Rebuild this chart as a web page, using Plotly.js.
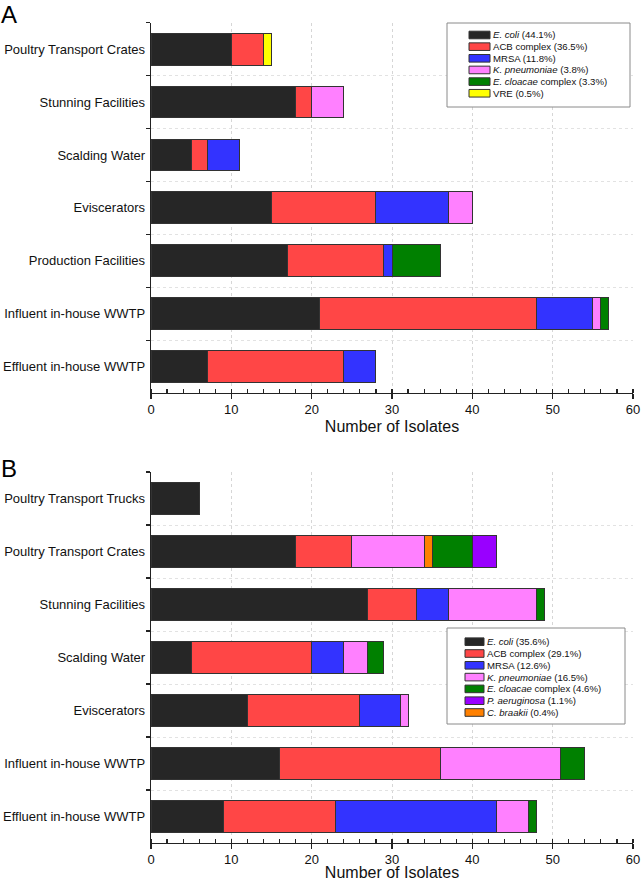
<!DOCTYPE html>
<html>
<head>
<meta charset="utf-8">
<script src="https://cdn.plot.ly/plotly-3.0.1.min.js"></script>
<style>html,body{margin:0;padding:0;background:#fff;}#chart{width:641px;height:881px;}</style>
</head>
<body>
<div id="chart"></div>
<script>
// ---------- DATA ----------
const catsA = ["Poultry Transport Crates","Stunning Facilities","Scalding Water","Eviscerators","Production Facilities","Influent in-house WWTP","Effluent in-house WWTP"];
const A_ecoli = [10,18,5,15,17,21,7];
const A_acb   = [4,2,2,13,12,27,17];
const A_mrsa  = [0,0,4,9,1,7,4];
const A_kpn   = [0,4,0,3,0,1,0];
const A_ecl   = [0,0,0,0,6,1,0];
const A_vre   = [1,0,0,0,0,0,0];
const legendA = ["<i>E. coli</i> (44.1%)","ACB complex (36.5%)","MRSA (11.8%)","<i>K. pneumoniae</i> (3.8%)","<i>E. cloacae</i> complex (3.3%)","VRE (0.5%)"];

const catsB = ["Poultry Transport Trucks","Poultry Transport Crates","Stunning Facilities","Scalding Water","Eviscerators","Influent in-house WWTP","Effluent in-house WWTP"];
const B_ecoli = [6,18,27,5,12,16,9];
const B_acb   = [0,7,6,15,14,20,14];
const B_mrsa  = [0,0,4,4,5,0,20];
const B_kpn   = [0,9,11,3,1,15,4];
const B_cbr   = [0,1,0,0,0,0,0];
const B_ecl   = [0,5,1,2,0,3,1];
const B_pae   = [0,3,0,0,0,0,0];
const legendB = ["<i>E. coli</i> (35.6%)","ACB complex (29.1%)","MRSA (12.6%)","<i>K. pneumoniae</i> (16.5%)","<i>E. cloacae</i> complex (4.6%)","<i>P. aeruginosa</i> (1.1%)","<i>C. braakii</i> (0.4%)"];

// ---------- STYLE ----------
const C = {ecoli:"#262626", acb:"#FF4646", mrsa:"#3333FF", kpn:"#FF80FF", ecl:"#008000", vre:"#FFFF00", pae:"#9900FF", cbr:"#FF8000"};
const FONT = "Liberation Sans, Arial, Helvetica, sans-serif";
const W = 641, H = 881, ML = 151, MR = 8;
const px = x => (x - ML) / (W - ML - MR);
const py = y => 1 - y / H;

function bar(vals, cats, color, xa, ya) {
  return {type:"bar", orientation:"h", x: vals.map(v => v === 0 ? null : v), y: cats,
    xaxis: xa, yaxis: ya, marker:{color: color, line:{color:"#333333", width:1}},
    showlegend:false, hoverinfo:"skip"};
}

const traces = [
  bar(A_ecoli, catsA, C.ecoli, "x", "y"),
  bar(A_acb,   catsA, C.acb,   "x", "y"),
  bar(A_mrsa,  catsA, C.mrsa,  "x", "y"),
  bar(A_kpn,   catsA, C.kpn,   "x", "y"),
  bar(A_ecl,   catsA, C.ecl,   "x", "y"),
  bar(A_vre,   catsA, C.vre,   "x", "y"),
  bar(B_ecoli, catsB, C.ecoli, "x2", "y2"),
  bar(B_acb,   catsB, C.acb,   "x2", "y2"),
  bar(B_mrsa,  catsB, C.mrsa,  "x2", "y2"),
  bar(B_kpn,   catsB, C.kpn,   "x2", "y2"),
  bar(B_cbr,   catsB, C.cbr,   "x2", "y2"),
  bar(B_ecl,   catsB, C.ecl,   "x2", "y2"),
  bar(B_pae,   catsB, C.pae,   "x2", "y2")
];

const domA = [py(393), py(22.7)];
const domB = [py(843), py(472)];

function xAxis(anchor) {
  return {anchor: anchor, domain:[0,1], range:[0,60], dtick:10, ticks:"outside", ticklen:5, tickwidth:1.2,
    tickcolor:"#222", showline:true, linecolor:"#222", linewidth:1.3, zeroline:false,
    showgrid:true, gridcolor:"#d6d6d6", griddash:"dot", gridwidth:1,
    minor:{dtick:2, ticks:"inside", ticklen:4, tickcolor:"#222", tickwidth:1.2, showgrid:false},
    tickfont:{family:FONT, size:13, color:"#111"}, automargin:false, fixedrange:true, ticklabelstandoff:-1,
    title:{text:"Number of Isolates", font:{family:FONT, size:16, color:"#111"}, standoff:5}};
}
function yAxis(anchor, dom, cats) {
  return {anchor: anchor, domain: dom, type:"category", categoryorder:"array", categoryarray: cats,
    range:[cats.length - 0.5, -0.5], tickson:"boundaries", ticks:"outside", ticklen:4, tickwidth:1.2,
    tickcolor:"#222", showline:true, linecolor:"#222", linewidth:1.3, zeroline:false,
    showgrid:true, gridcolor:"#e2e2e2", griddash:"dot", gridwidth:1,
    tickfont:{family:FONT, size:13, color:"#111"}, automargin:false, fixedrange:true, ticklabelstandoff:2};
}
function yInner(over, anchor, cats) {
  const b = cats.map((c, i) => i - 0.5).concat([cats.length - 0.5]);
  return {overlaying: over, anchor: anchor, side:"left", type:"linear", range:[cats.length - 0.5, -0.5],
    tickmode:"array", tickvals: b, ticks:"inside", ticklen:4, tickwidth:1.2, tickcolor:"#222",
    showticklabels:false, showgrid:false, zeroline:false, showline:false, fixedrange:true};
}

const shapes = [], annotations = [];
function legend(labels, colors, box, sx0, sx1, tx, y0, step) {
  shapes.push({type:"rect", xref:"paper", yref:"paper", x0:px(box[0]), x1:px(box[2]), y0:py(box[1]), y1:py(box[3]),
    line:{color:"#8a8a8a", width:1}, fillcolor:"rgba(255,255,255,1)", layer:"above"});
  labels.forEach((t, i) => {
    const yc = y0 + i * step;
    shapes.push({type:"rect", xref:"paper", yref:"paper", x0:px(sx0), x1:px(sx1), y0:py(yc + 3.8), y1:py(yc - 3.8),
      line:{color:"#333", width:1}, fillcolor: colors[i], layer:"above"});
    annotations.push({xref:"paper", yref:"paper", x:px(tx), y:py(yc), xanchor:"left", yanchor:"middle",
      text:t, showarrow:false, borderpad:0, font:{family:FONT, size:9.6, color:"#111"}});
  });
}
legend(legendA, [C.ecoli, C.acb, C.mrsa, C.kpn, C.ecl, C.vre], [447, 23, 630, 107], 469, 490, 492, 35, 11.65);
legend(legendB, [C.ecoli, C.acb, C.mrsa, C.kpn, C.ecl, C.pae, C.cbr], [447, 628, 625, 724], 465, 484, 486, 641.7, 11.8);

annotations.push({xref:"paper", yref:"paper", x:px(0), y:py(0), xanchor:"left", yanchor:"top", text:"A",
  showarrow:false, borderpad:0, font:{family:FONT, size:24, color:"#000"}});
annotations.push({xref:"paper", yref:"paper", x:px(0), y:py(468.5), xanchor:"left", yanchor:"middle", text:"B",
  showarrow:false, borderpad:0, font:{family:FONT, size:24, color:"#000"}});

const layout = {
  width: W, height: H, margin:{l:ML, r:MR, t:0, b:0}, paper_bgcolor:"#fff", plot_bgcolor:"#fff",
  barmode:"stack", bargap:0.4, showlegend:false, font:{family:FONT, color:"#111"},
  xaxis: xAxis("y"), yaxis: yAxis("x", domA, catsA),
  xaxis2: xAxis("y2"), yaxis2: yAxis("x2", domB, catsB),
  yaxis3: yInner("y", "x", catsA), yaxis4: yInner("y2", "x2", catsB),
  shapes: shapes, annotations: annotations
};

Plotly.newPlot("chart", traces, layout, {displayModeBar:false, staticPlot:true});
</script>
</body>
</html>
